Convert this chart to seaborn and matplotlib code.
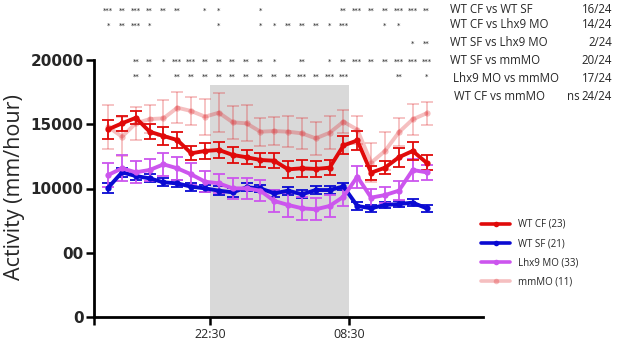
import matplotlib
matplotlib.use("Agg")
import matplotlib.pyplot as plt
import matplotlib.transforms as mtransforms
from matplotlib.lines import Line2D
import seaborn as sns
import pandas as pd

# hourly means (mm/hour) and SEM, 24 time points
hours = list(range(24))
wt_cf = [14600, 15070, 15500, 14420, 14085, 13770, 12740, 12920, 13000, 12610, 12430, 12220,
         12160, 11490, 11570, 11520, 11620, 13350, 13740, 11230, 11620, 12430, 12920, 12010]
wt_cf_err = [750, 600, 500, 600, 700, 650, 550, 600, 650, 650, 550, 550,
             600, 650, 650, 650, 600, 700, 750, 550, 500, 750, 700, 580]
wt_sf = [10060, 11260, 10970, 10790, 10480, 10400, 10140, 10010, 9830, 9700, 10090, 10010,
         9620, 9830, 9550, 9880, 9880, 10160, 8640, 8460, 8720, 8790, 8900, 8460]
wt_sf_err = [400, 350, 300, 300, 300, 300, 300, 300, 350, 350, 300, 300,
             300, 300, 300, 300, 300, 300, 300, 250, 250, 250, 300, 280]
lhx9 = [11050, 11570, 11260, 11440, 11880, 11570, 11100, 10530, 10400, 10010, 10010, 9830,
        9030, 8720, 8460, 8380, 8640, 9360, 10920, 9290, 9490, 9830, 11440, 11260]
lhx9_err = [950, 1000, 850, 850, 900, 900, 850, 800, 750, 800, 800, 800,
            850, 900, 900, 850, 850, 700, 850, 700, 650, 750, 850, 600]
mmmo = [14810, 14030, 15070, 15400, 15460, 16290, 16030, 15590, 15900, 15150, 15070, 14420,
        14470, 14420, 14290, 13900, 14340, 15200, 14580, 12010, 12920, 14370, 15380, 15850]
mmmo_err = [1700, 1500, 1300, 1100, 1400, 1200, 1100, 1400, 1500, 1300, 1400, 1100,
            1100, 1200, 1200, 1300, 1300, 900, 1100, 1500, 1500, 1100, 1200, 900]

legend_labels = ["WT CF (23)", "WT SF (21)", "Lhx9 MO (33)", "mmMO (11)"]
tick_pos = [-1.02, 7.35, 17.4]
tick_labels = ["", "22:30", "08:30"]
ytick_vals = [0, 5000, 10000, 15000, 20000]
ytick_labels = ["0", "00", "10000", "15000", "20000"]
night = (7.35, 17.4, 18050)

# significance per time point for each comparison
stars = [
    ["***", "**", "***", "**", "**", "**", "", "*", "*", "", "", "*",
     "", "", "", "", "", "**", "***", "**", "**", "***", "***", "**"],
    ["*", "**", "***", "*", "", "", "", "", "*", "", "", "*",
     "*", "**", "**", "**", "*", "***", "", "", "*", "*", "", ""],
    ["", "", "", "", "", "", "", "", "", "", "", "",
     "", "", "", "", "", "", "", "", "", "", "*", "**"],
    ["", "", "**", "**", "*", "***", "***", "**", "**", "**", "**", "**",
     "*", "", "**", "", "*", "**", "***", "**", "**", "***", "***", "***"],
    ["", "", "**", "*", "", "**", "**", "**", "**", "**", "**", "**",
     "**", "**", "***", "**", "***", "***", "", "", "", "**", "", "*"],
]
comparisons = ["WT CF vs WT SF", "WT CF vs Lhx9 MO", "WT SF vs Lhx9 MO",
               "WT SF vs mmMO", "Lhx9 MO vs mmMO", "WT CF vs mmMO"]
counts = ["16/24", "14/24", "2/24", "20/24", "17/24", "24/24"]

sns.set_style("ticks")
plt.rcParams["font.family"] = ["Open Sans", "DejaVu Sans"]

W, H = 617, 342
fig = plt.figure(figsize=(W / 100, H / 100), dpi=100)
ax = fig.add_axes([94 / W, 1 - 317 / H, 389 / W, 257 / H])

ax.fill_between([night[0], night[1]], 0, night[2], color="#d9d9d9", lw=0, zorder=0)

series = [
    (mmmo, mmmo_err, (0.87, 0.1, 0.12), 0.28),
    (wt_sf, wt_sf_err, "#0a0ad2", 1.0),
    (lhx9, lhx9_err, "#cc55ee", 1.0),
    (wt_cf, wt_cf_err, "#e00a0a", 1.0),
]
for vals, errs, col, a in series:
    ax.errorbar(hours, vals, yerr=errs, fmt="none", ecolor=col, alpha=a,
                elinewidth=1.3, capsize=4, capthick=1.3, zorder=2)
    sns.lineplot(x=hours, y=vals, ax=ax, color=col, alpha=a, lw=2.8,
                 marker="o", markersize=4.5, markeredgewidth=0, zorder=3)

ax.set_xlim(-1.02, 27.08)
ax.set_ylim(0, 20000)
ax.set_xticks(tick_pos)
ax.set_xticklabels(tick_labels, fontsize=9)
ax.set_yticks(ytick_vals)
ax.set_yticklabels(ytick_labels, fontsize=11, fontweight="bold", family="DejaVu Sans")
ax.tick_params(axis="both", length=6, width=1.8, color="black", direction="out")
ax.tick_params(axis="y", pad=1.5)
ax.tick_params(axis="x", pad=2)
for s in ["top", "right"]:
    ax.spines[s].set_visible(False)
for s in ["left", "bottom"]:
    ax.spines[s].set_linewidth(2)
    ax.spines[s].set_color("black")
ax.set_ylabel("Activity (mm/hour)", fontsize=15.5)
ax.yaxis.set_label_coords(-0.178, 0.505)

# star rows above the plot
trans = mtransforms.blended_transform_factory(ax.transData, fig.transFigure)
row_px = [9.3, 24.3, 42.7, 60, 75]
for row, ypx in zip(stars, row_px):
    for x, s in zip(hours, row):
        if s:
            ax.text(x, 1 - (ypx + 1.5) / H, s, transform=trans, fontsize=5,
                    ha="center", va="center", color="#222222", family="DejaVu Sans",
                    clip_on=False)

lab_px = [9.5, 25, 43, 61, 78, 96]
lab_x = [450, 450, 450, 450, 453, 454]
for name, c, ypx, xpx in zip(comparisons, counts, lab_px, lab_x):
    fig.text(xpx / W, 1 - ypx / H, name, fontsize=8.3, ha="left", va="center")
    fig.text(612 / W, 1 - ypx / H, c, fontsize=8.3, ha="right", va="center")
fig.text(580 / W, 1 - lab_px[-1] / H, "ns", fontsize=8.3, ha="right", va="center")

handles = []
for (vals, errs, col, a) in [series[3], series[1], series[2], series[0]]:
    handles.append(Line2D([0], [0], color=col, alpha=a, lw=2.6, marker="o",
                          markersize=4, markeredgewidth=0))
fig.legend(handles, legend_labels, loc="upper left",
           bbox_to_anchor=(481 / W, 1 - 219 / H), frameon=False, fontsize=7,
           handlelength=3, handletextpad=0.8, labelspacing=0.85,
           borderpad=0, borderaxespad=0, numpoints=1)

fig.savefig("out.png", dpi=100)
